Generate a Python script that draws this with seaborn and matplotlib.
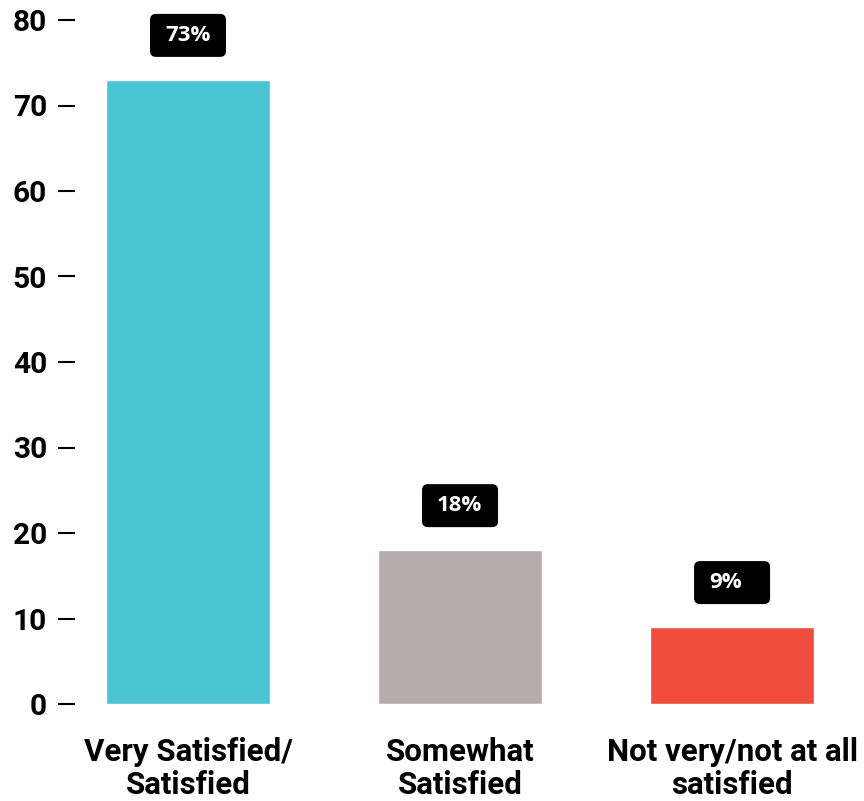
import matplotlib
matplotlib.use("Agg")
import matplotlib.pyplot as plt
from matplotlib.patches import FancyBboxPatch
import seaborn as sns
import pandas as pd

categories = ["Very Satisfied/\nSatisfied", "Somewhat\nSatisfied", "Not very/not at all\nsatisfied"]
values = [73, 18, 9]
colors = ["#4BC4D4", "#B5ACAB", "#F04D3E"]
yticks = [0, 10, 20, 30, 40, 50, 60, 70, 80]

sns.set_theme(style="white")
plt.rcParams["font.family"] = ["Roboto", "DejaVu Sans"]

W, H = 864, 801
fig = plt.figure(figsize=(W / 100, H / 100), dpi=100)
ax_left, ax_bottom, ax_top = 75, 704, 20
ax = fig.add_axes([ax_left / W, 1 - ax_bottom / H, (W - ax_left) / W, (ax_bottom - ax_top) / H])

df = pd.DataFrame({"category": categories, "value": values})
sns.barplot(data=df, x="category", y="value", hue="category", palette=colors,
            width=0.603, saturation=1, legend=False, ax=ax)

ax.set_xlim(-0.4154, 2.485)
ax.set_ylim(0, 80)
ax.set_yticks(yticks)
ax.set_yticklabels([str(t) for t in yticks])
ax.set_xlabel("")
ax.set_ylabel("")
for s in ax.spines.values():
    s.set_visible(False)

ax.tick_params(axis="y", which="major", left=True, direction="out", length=12, width=1.5,
               color="black", pad=8, labelsize=21.5, labelcolor="black")
ax.tick_params(axis="x", bottom=False, pad=18, labelsize=22.5, labelcolor="black")
for lab in ax.get_yticklabels() + ax.get_xticklabels():
    lab.set_fontweight("bold")
for lab in ax.get_xticklabels():
    lab.set_linespacing(1.12)

# value badges: fixed-size rounded black boxes above each bar
px_x = 1 / 272.0      # data units per pixel, x
px_y = 80 / 684.0     # data units per pixel, y
box_w, box_h = 76 * px_x, 43 * px_y
offset = 5.2
for i, v in enumerate(values):
    cy = v + offset
    x0 = i - box_w / 2
    y0 = cy - box_h / 2
    patch = FancyBboxPatch((x0, y0), box_w, box_h,
                           boxstyle="round,pad=0,rounding_size=0.022",
                           mutation_aspect=px_y / px_x,
                           facecolor="black", edgecolor="none", clip_on=False, zorder=5)
    ax.add_patch(patch)
    ax.text(x0 + 15 * px_x, cy, f"{v}%", ha="left", va="center", color="white",
            fontsize=16, fontweight="bold", family=["Open Sans", "DejaVu Sans"],
            zorder=6, clip_on=False)

fig.savefig("out.png", dpi=100)
